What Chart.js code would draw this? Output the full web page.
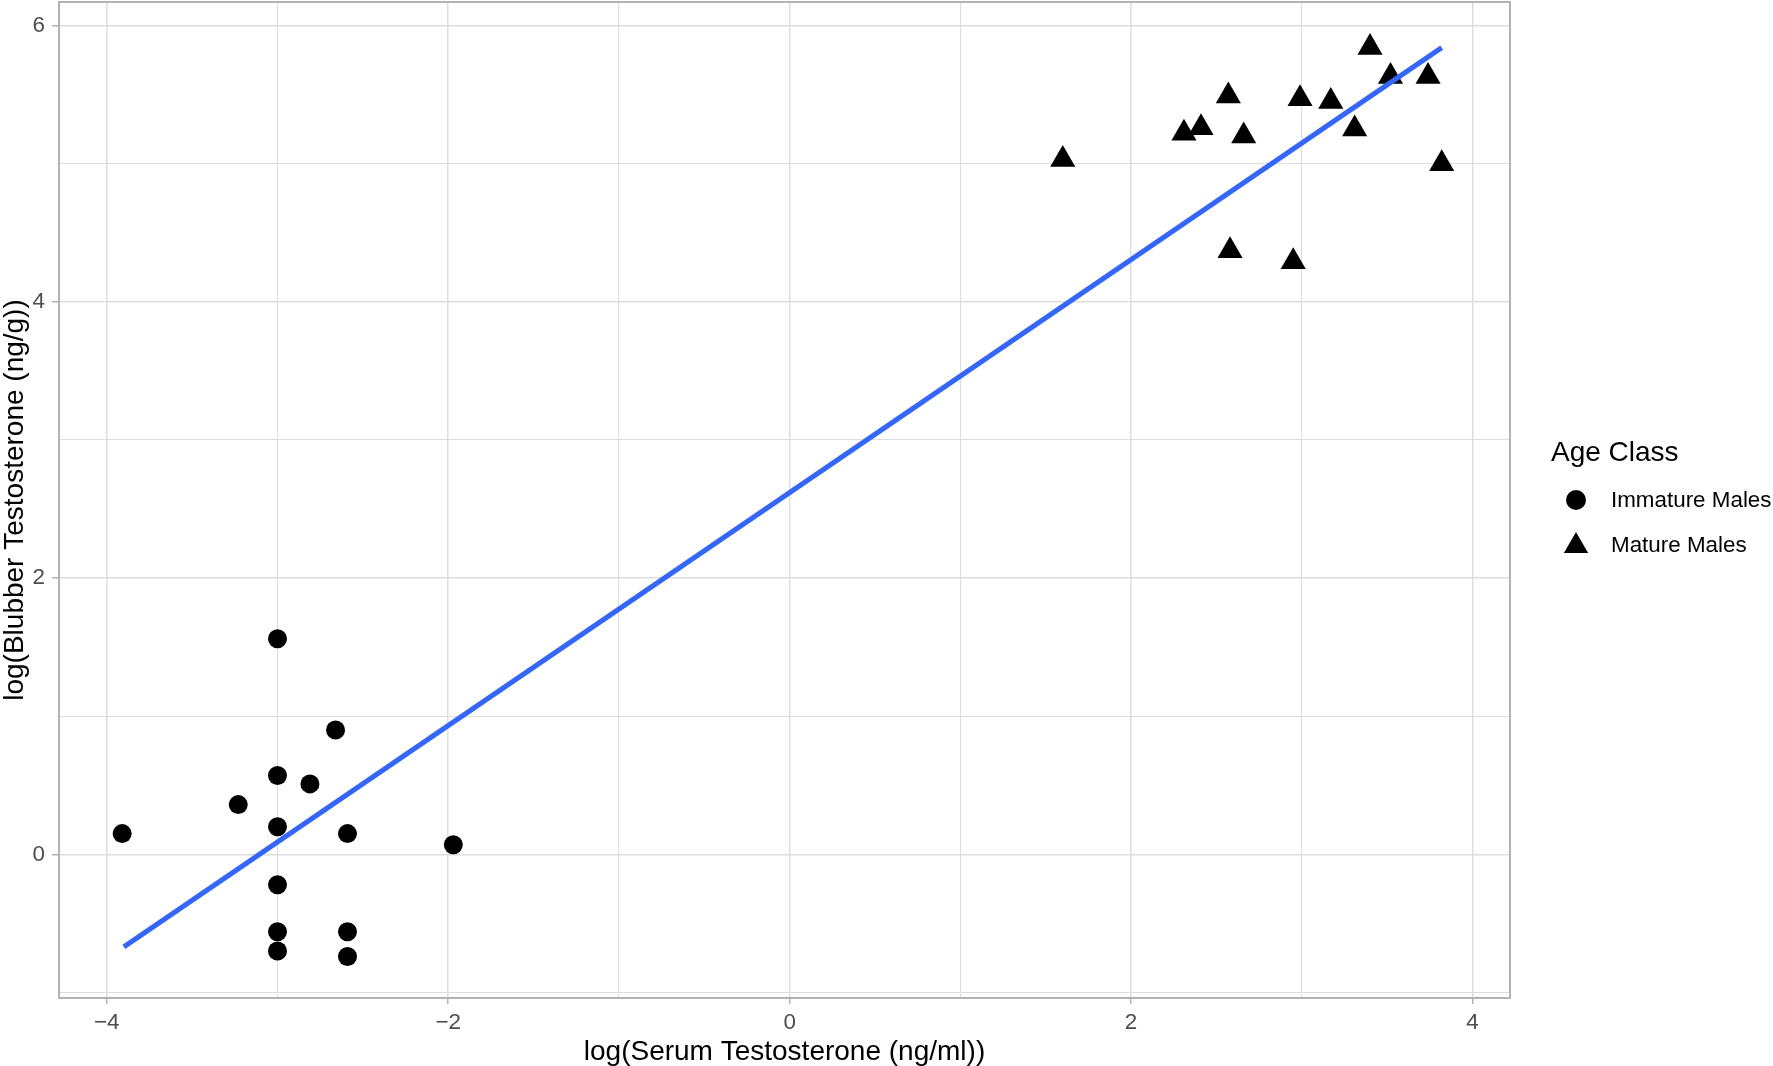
<!DOCTYPE html>
<html>
<head>
<meta charset="utf-8">
<script src="https://cdn.jsdelivr.net/npm/chart.js@4/dist/chart.umd.min.js"></script>
<style>
  html, body { margin: 0; padding: 0; background: #fff; }
  #wrap { width: 1773px; height: 1066px; position: relative; }
</style>
</head>
<body>
<div id="wrap"><canvas id="chart"></canvas></div>
<script>
// values
var immatureX = [-3.91, -3.23, -3.0, -3.0, -3.0, -3.0, -3.0, -3.0, -2.81, -2.66, -2.59, -2.59, -2.59, -1.97];
var immatureY = [0.15, 0.36, 1.56, 0.57, 0.20, -0.22, -0.56, -0.70, 0.51, 0.90, 0.15, -0.56, -0.74, 0.07];
var matureX = [1.60, 2.31, 2.41, 2.57, 2.66, 2.99, 3.17, 3.40, 3.52, 3.31, 3.74, 3.82, 2.58, 2.95];
var matureY = [5.03, 5.22, 5.26, 5.49, 5.20, 5.47, 5.45, 5.84, 5.63, 5.25, 5.63, 5.00, 4.37, 4.29];
var fitX = [-3.9, 3.82];
var fitY = [-0.67, 5.84];
var seriesNames = ["Immature Males", "Mature Males"];
var legendTitle = "Age Class";
var xTitle = "log(Serum Testosterone (ng/ml))";
var yTitle = "log(Blubber Testosterone (ng/g))";

function pts(xs, ys) {
    return xs.map(function(x, i) { return {x: x, y: ys[i]}; });
}
function tickLabel(v) {
    if (Math.round(v) % 2 !== 0) return "";
    return v < 0 ? "\u2212" + Math.abs(v) : String(v);
}

var FONT = "'Liberation Sans', Arial, Helvetica, sans-serif";
var GRID = "#DEDEDE";
var FRAME = "#B3B3B3";

function isMajor(ctx) {
    return ctx.tick && Math.round(ctx.tick.value) % 2 === 0;
}

var panelBox = {
    id: "panelBox",
    beforeDatasetsDraw: function(chart) {
        var a = chart.chartArea, c = chart.ctx;
        c.save();
        c.strokeStyle = FRAME;
        c.lineWidth = 2;
        c.strokeRect(a.left, a.top, a.right - a.left, a.bottom - a.top);
        c.restore();
    },
    afterDraw: function(chart) {
        var c = chart.ctx;
        c.save();
        c.fillStyle = "#000";
        c.textBaseline = "alphabetic";
        c.font = "28px " + FONT;
        c.fillText(legendTitle, 1551, 461);
        // circle key
        c.beginPath();
        c.arc(1576, 500, 10, 0, Math.PI * 2);
        c.fill();
        // triangle key
        var r = 14, cx = 1576, cy = 546;
        c.beginPath();
        c.moveTo(cx, cy - r);
        c.lineTo(cx + r * Math.sin(2 * Math.PI / 3), cy + r / 2);
        c.lineTo(cx - r * Math.sin(2 * Math.PI / 3), cy + r / 2);
        c.closePath();
        c.fill();
        c.font = "22.4px " + FONT;
        c.textBaseline = "middle";
        c.fillText(seriesNames[0], 1611, 501);
        c.fillText(seriesNames[1], 1611, 546);
        c.restore();
    }
};

var ctx = document.getElementById("chart");
var chart = new Chart(ctx, {
    type: "scatter",
    data: {
        datasets: [
            {
                type: "line",
                label: "fit",
                data: pts(fitX, fitY),
                borderColor: "#3366FF",
                borderWidth: 5,
                pointRadius: 0,
                fill: false,
                order: 0
            },
            {
                label: seriesNames[0],
                data: pts(immatureX, immatureY),
                pointStyle: "circle",
                pointRadius: 9.5,
                backgroundColor: "#000",
                borderWidth: 0,
                order: 1
            },
            {
                label: seriesNames[1],
                data: pts(matureX, matureY),
                pointStyle: "triangle",
                pointRadius: 14.5,
                backgroundColor: "#000",
                borderWidth: 0,
                order: 1
            }
        ]
    },
    options: {
        responsive: true,
        maintainAspectRatio: false,
        animation: false,
        layout: { autoPadding: false, padding: { left: 0, top: 2, right: 263, bottom: 0 } },
        plugins: {
            legend: { display: false },
            tooltip: { enabled: false }
        },
        scales: {
            x: {
                type: "linear",
                min: -4.28,
                max: 4.22,
                afterFit: function(s) {
                    s.height = 68;
                    s.paddingLeft = 0;
                    s.paddingRight = 0;
                },
                border: { display: false },
                grid: {
                    color: GRID,
                    lineWidth: function(c) { return isMajor(c) ? 1.5 : 1.1; },
                    tickLength: 6,
                    tickColor: function(c) { return isMajor(c) ? FRAME : "rgba(0,0,0,0)"; },
                    tickWidth: 1.5
                },
                ticks: {
                    stepSize: 1,
                    includeBounds: false,
                    autoSkip: false,
                    maxRotation: 0,
                    padding: 5,
                    color: "#4D4D4D",
                    font: { family: FONT, size: 22.4 },
                    callback: tickLabel
                },
                title: {
                    display: true,
                    text: xTitle,
                    color: "#000",
                    font: { family: FONT, size: 28, lineHeight: 1 },
                    padding: { top: 0, bottom: 0 }
                }
            },
            y: {
                type: "linear",
                min: -1.04,
                max: 6.17,
                afterFit: function(s) {
                    s.width = 59;
                    s.paddingTop = 0;
                    s.paddingBottom = 0;
                },
                border: { display: false },
                grid: {
                    color: GRID,
                    lineWidth: function(c) { return isMajor(c) ? 1.5 : 1.1; },
                    tickLength: 7,
                    tickColor: function(c) { return isMajor(c) ? FRAME : "rgba(0,0,0,0)"; },
                    tickWidth: 1.5
                },
                ticks: {
                    stepSize: 1,
                    includeBounds: false,
                    autoSkip: false,
                    padding: 7,
                    color: "#4D4D4D",
                    font: { family: FONT, size: 22.4 },
                    callback: tickLabel
                },
                title: {
                    display: true,
                    text: yTitle,
                    color: "#000",
                    font: { family: FONT, size: 28, lineHeight: 1 },
                    padding: { top: 1, bottom: 0 }
                }
            }
        }
    },
    plugins: [panelBox]
});
</script>
</body>
</html>
